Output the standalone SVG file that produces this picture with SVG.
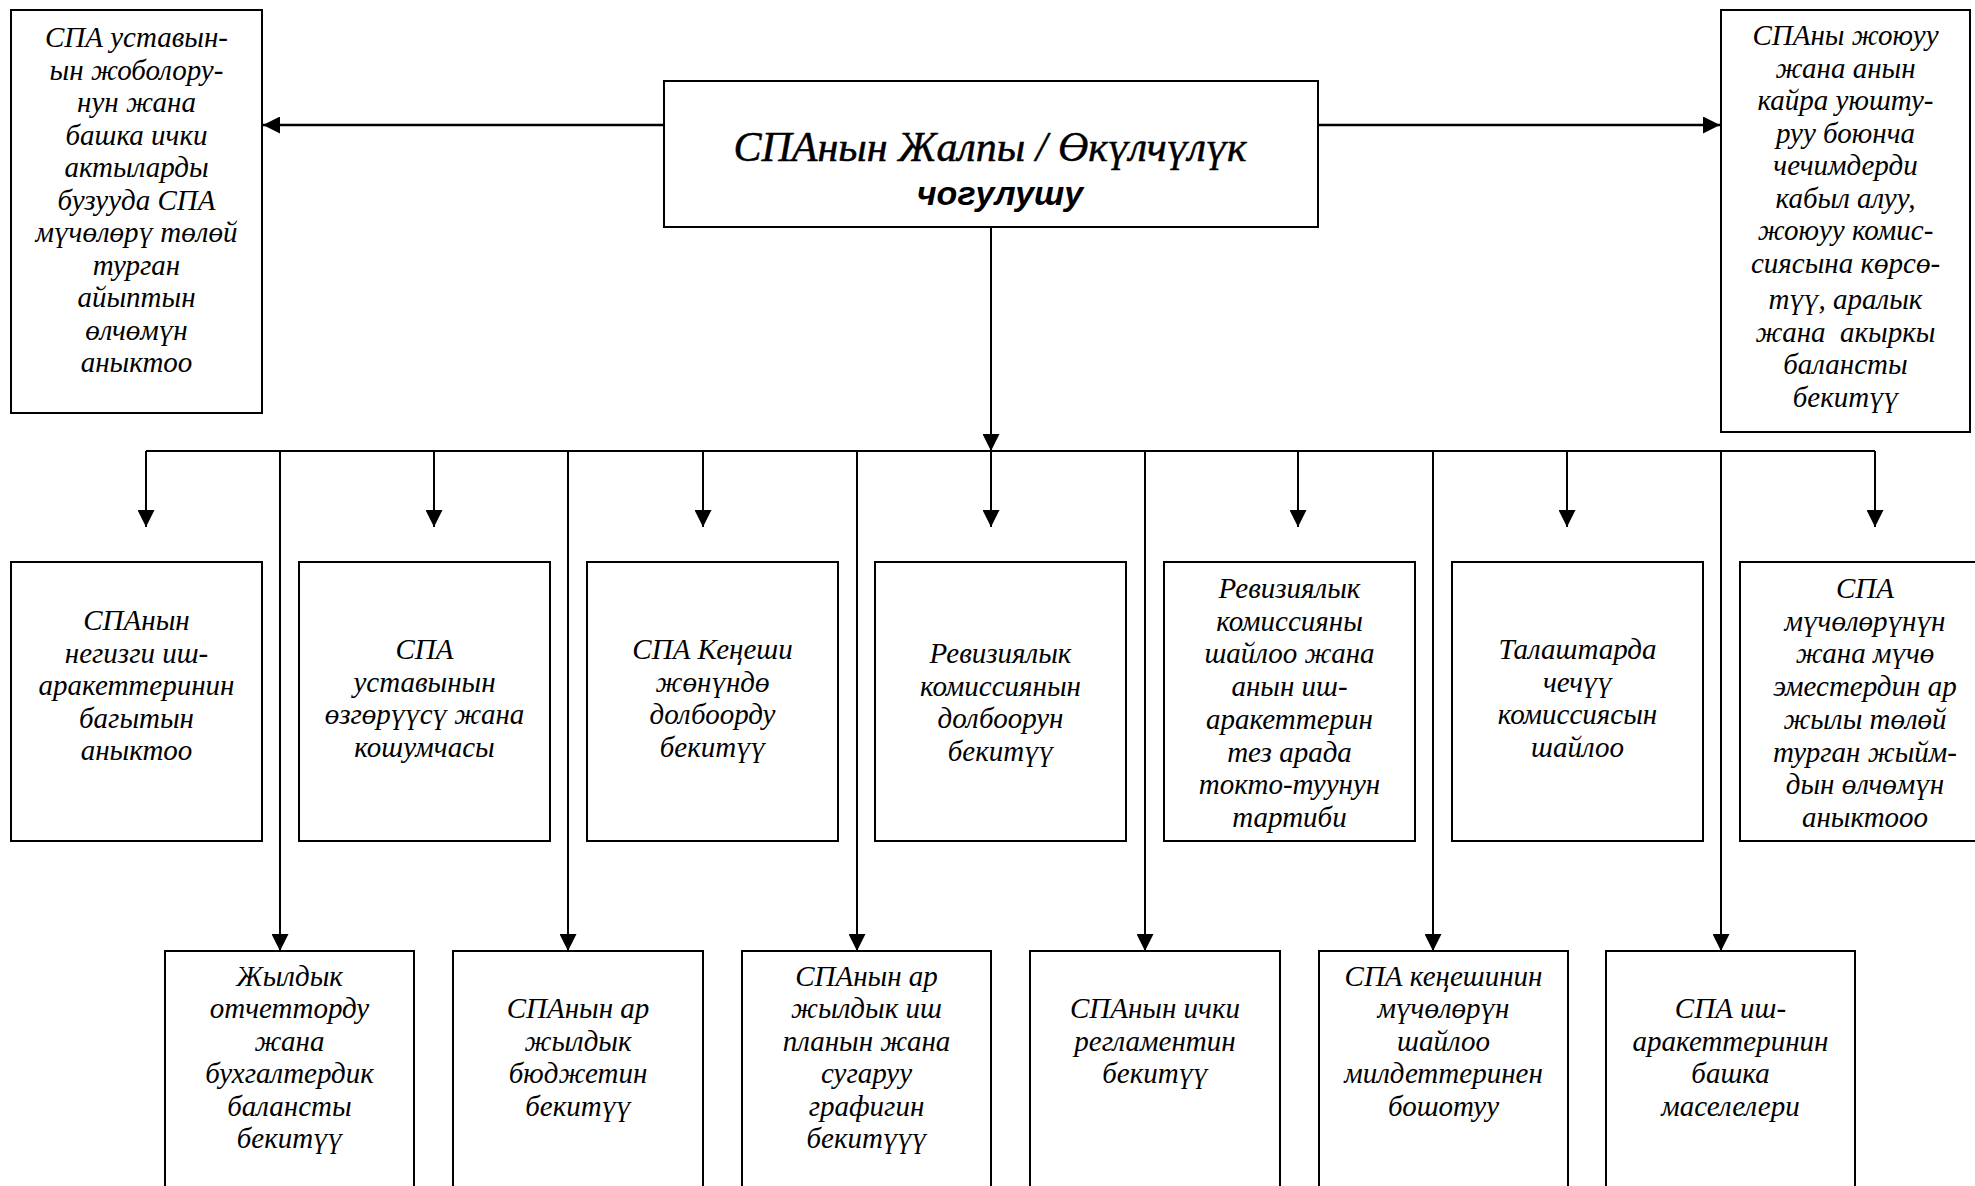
<svg xmlns="http://www.w3.org/2000/svg" width="1975" height="1186" viewBox="0 0 1975 1186">
<style>
  .box { fill: #ffffff; stroke: #000000; stroke-width: 2; }
  .ln { fill: none; stroke: #000000; stroke-width: 2; }
  .lnt { fill: none; stroke: #000000; stroke-width: 2.6; }
  .t { font-family: "Liberation Serif", "Times New Roman", serif; font-style: italic; font-size: 29px; text-anchor: middle; fill: #000; }
  .title1 { font-family: "Liberation Serif", "Times New Roman", serif; font-style: italic; font-size: 42px; text-anchor: middle; fill: #000; stroke: #000; stroke-width: 0.5; }
  .title2 { font-family: "Liberation Sans", Arial, sans-serif; font-style: italic; font-weight: bold; font-size: 34px; text-anchor: middle; fill: #000; }
</style>
<defs>
  <marker id="ah" markerUnits="userSpaceOnUse" markerWidth="17" markerHeight="17" refX="16" refY="8" orient="auto" viewBox="0 0 16 16">
    <path d="M0,0 L16,8 L0,16 Z" fill="#000"/>
  </marker>
</defs>
<rect width="1975" height="1186" fill="#ffffff"/>

<g id="connectors">
  <line class="lnt" x1="664" y1="125" x2="263" y2="125" marker-end="url(#ah)"/>
  <line class="lnt" x1="1318" y1="125" x2="1720" y2="125" marker-end="url(#ah)"/>
  <line class="ln" x1="991" y1="227" x2="991" y2="451" marker-end="url(#ah)"/>
  <line class="ln" x1="146" y1="451" x2="1875" y2="451"/>
  <line class="ln" x1="146" y1="451" x2="146" y2="527" marker-end="url(#ah)"/>
  <line class="ln" x1="434" y1="451" x2="434" y2="527" marker-end="url(#ah)"/>
  <line class="ln" x1="703" y1="451" x2="703" y2="527" marker-end="url(#ah)"/>
  <line class="ln" x1="991" y1="451" x2="991" y2="527" marker-end="url(#ah)"/>
  <line class="ln" x1="1298" y1="451" x2="1298" y2="527" marker-end="url(#ah)"/>
  <line class="ln" x1="1567" y1="451" x2="1567" y2="527" marker-end="url(#ah)"/>
  <line class="ln" x1="1875" y1="451" x2="1875" y2="527" marker-end="url(#ah)"/>
  <line class="ln" x1="280" y1="451" x2="280" y2="951" marker-end="url(#ah)"/>
  <line class="ln" x1="568" y1="451" x2="568" y2="951" marker-end="url(#ah)"/>
  <line class="ln" x1="857" y1="451" x2="857" y2="951" marker-end="url(#ah)"/>
  <line class="ln" x1="1145" y1="451" x2="1145" y2="951" marker-end="url(#ah)"/>
  <line class="ln" x1="1433" y1="451" x2="1433" y2="951" marker-end="url(#ah)"/>
  <line class="ln" x1="1721" y1="451" x2="1721" y2="951" marker-end="url(#ah)"/>
</g>

<g id="n-main">
  <rect class="box" x="664" y="81" width="654" height="146"/>
  <text class="title1" x="990" y="161">СПАнын Жалпы / Өкүлчүлүк</text>
  <text class="title2" x="1000" y="205">чогулушу</text>
</g>

<g id="n-left">
  <rect class="box" x="11" y="10" width="251" height="403"/>
  <text class="t" x="136.5" y="47">СПА уставын-</text>
  <text class="t" x="136.5" y="79.5">ын жоболору-</text>
  <text class="t" x="136.5" y="112">нун жана</text>
  <text class="t" x="136.5" y="144.5">башка ички</text>
  <text class="t" x="136.5" y="177">актыларды</text>
  <text class="t" x="136.5" y="209.5">бузууда СПА</text>
  <text class="t" x="136.5" y="242">мүчөлөрү төлөй</text>
  <text class="t" x="136.5" y="274.5">турган</text>
  <text class="t" x="136.5" y="307">айыптын</text>
  <text class="t" x="136.5" y="339.5">өлчөмүн</text>
  <text class="t" x="136.5" y="372">аныктоо</text>
</g>

<g id="n-right">
  <rect class="box" x="1721" y="10" width="249" height="422"/>
  <text class="t" x="1845.5" y="45">СПАны жоюуу</text>
  <text class="t" x="1845.5" y="77.5">жана анын</text>
  <text class="t" x="1845.5" y="110">кайра уюшту-</text>
  <text class="t" x="1845.5" y="142.5">руу боюнча</text>
  <text class="t" x="1845.5" y="175">чечимдерди</text>
  <text class="t" x="1845.5" y="207.5">кабыл алуу,</text>
  <text class="t" x="1845.5" y="240">жоюуу комис-</text>
  <text class="t" x="1845.5" y="272.5">сиясына көрсө-</text>
  <text class="t" x="1845.5" y="309">түү, аралык</text>
  <text class="t" x="1845.5" y="341.5" xml:space="preserve">жана  акыркы</text>
  <text class="t" x="1845.5" y="374">балансты</text>
  <text class="t" x="1845.5" y="406.5">бекитүү</text>
</g>

<g id="n-r1-1">
  <rect class="box" x="11" y="562" width="251" height="279"/>
  <text class="t" x="136.5" y="630">СПАнын</text>
  <text class="t" x="136.5" y="662.5">негизги иш-</text>
  <text class="t" x="136.5" y="695">аракеттеринин</text>
  <text class="t" x="136.5" y="727.5">багытын</text>
  <text class="t" x="136.5" y="760">аныктоо</text>
</g>

<g id="n-r1-2">
  <rect class="box" x="299" y="562" width="251" height="279"/>
  <text class="t" x="424.5" y="659">СПА</text>
  <text class="t" x="424.5" y="691.5">уставынын</text>
  <text class="t" x="424.5" y="724">өзгөрүүсү жана</text>
  <text class="t" x="424.5" y="756.5">кошумчасы</text>
</g>

<g id="n-r1-3">
  <rect class="box" x="587" y="562" width="251" height="279"/>
  <text class="t" x="712.5" y="659">СПА Кеңеши</text>
  <text class="t" x="712.5" y="691.5">жөнүндө</text>
  <text class="t" x="712.5" y="724">долбоорду</text>
  <text class="t" x="712.5" y="756.5">бекитүү</text>
</g>

<g id="n-r1-4">
  <rect class="box" x="875" y="562" width="251" height="279"/>
  <text class="t" x="1000.5" y="663">Ревизиялык</text>
  <text class="t" x="1000.5" y="695.5">комиссиянын</text>
  <text class="t" x="1000.5" y="728">долбоорун</text>
  <text class="t" x="1000.5" y="760.5">бекитүү</text>
</g>

<g id="n-r1-5">
  <rect class="box" x="1164" y="562" width="251" height="279"/>
  <text class="t" x="1289.5" y="598">Ревизиялык</text>
  <text class="t" x="1289.5" y="630.7">комиссияны</text>
  <text class="t" x="1289.5" y="663.4">шайлоо жана</text>
  <text class="t" x="1289.5" y="696.1">анын иш-</text>
  <text class="t" x="1289.5" y="728.8">аракеттерин</text>
  <text class="t" x="1289.5" y="761.5">тез арада</text>
  <text class="t" x="1289.5" y="794.2">токто-туунун</text>
  <text class="t" x="1289.5" y="826.9">тартиби</text>
</g>

<g id="n-r1-6">
  <rect class="box" x="1452" y="562" width="251" height="279"/>
  <text class="t" x="1577.5" y="659">Талаштарда</text>
  <text class="t" x="1577.5" y="691.5">чечүү</text>
  <text class="t" x="1577.5" y="724">комиссиясын</text>
  <text class="t" x="1577.5" y="756.5">шайлоо</text>
</g>

<g id="n-r1-7">
  <rect class="box" x="1740" y="562" width="251" height="279"/>
  <text class="t" x="1865" y="598">СПА</text>
  <text class="t" x="1865" y="630.7">мүчөлөрүнүн</text>
  <text class="t" x="1865" y="663.4">жана мүчө</text>
  <text class="t" x="1865" y="696.1">эместердин ар</text>
  <text class="t" x="1865" y="728.8">жылы төлөй</text>
  <text class="t" x="1865" y="761.5">турган жыйм-</text>
  <text class="t" x="1865" y="794.2">дын өлчөмүн</text>
  <text class="t" x="1865" y="826.9">аныктооо</text>
</g>

<g id="n-r2-1">
  <rect class="box" x="165" y="951" width="249" height="260"/>
  <text class="t" x="289.5" y="986">Жылдык</text>
  <text class="t" x="289.5" y="1018.4">отчетторду</text>
  <text class="t" x="289.5" y="1050.8">жана</text>
  <text class="t" x="289.5" y="1083.2">бухгалтердик</text>
  <text class="t" x="289.5" y="1115.6">балансты</text>
  <text class="t" x="289.5" y="1148">бекитүү</text>
</g>

<g id="n-r2-2">
  <rect class="box" x="453" y="951" width="250" height="260"/>
  <text class="t" x="578" y="1018.4">СПАнын ар</text>
  <text class="t" x="578" y="1050.8">жылдык</text>
  <text class="t" x="578" y="1083.2">бюджетин</text>
  <text class="t" x="578" y="1115.6">бекитүү</text>
</g>

<g id="n-r2-3">
  <rect class="box" x="742" y="951" width="249" height="260"/>
  <text class="t" x="866.5" y="986">СПАнын ар</text>
  <text class="t" x="866.5" y="1018.4">жылдык иш</text>
  <text class="t" x="866.5" y="1050.8">планын жана</text>
  <text class="t" x="866.5" y="1083.2">сугаруу</text>
  <text class="t" x="866.5" y="1115.6">графигин</text>
  <text class="t" x="866.5" y="1148">бекитүүү</text>
</g>

<g id="n-r2-4">
  <rect class="box" x="1030" y="951" width="250" height="260"/>
  <text class="t" x="1155" y="1018.4">СПАнын ички</text>
  <text class="t" x="1155" y="1050.8">регламентин</text>
  <text class="t" x="1155" y="1083.2">бекитүү</text>
</g>

<g id="n-r2-5">
  <rect class="box" x="1319" y="951" width="249" height="260"/>
  <text class="t" x="1443.5" y="986">СПА кеңешинин</text>
  <text class="t" x="1443.5" y="1018.4">мүчөлөрүн</text>
  <text class="t" x="1443.5" y="1050.8">шайлоо</text>
  <text class="t" x="1443.5" y="1083.2">милдеттеринен</text>
  <text class="t" x="1443.5" y="1115.6">бошотуу</text>
</g>

<g id="n-r2-6">
  <rect class="box" x="1606" y="951" width="249" height="260"/>
  <text class="t" x="1730.5" y="1018.4">СПА иш-</text>
  <text class="t" x="1730.5" y="1050.8">аракеттеринин</text>
  <text class="t" x="1730.5" y="1083.2">башка</text>
  <text class="t" x="1730.5" y="1115.6">маселелери</text>
</g>
</svg>
